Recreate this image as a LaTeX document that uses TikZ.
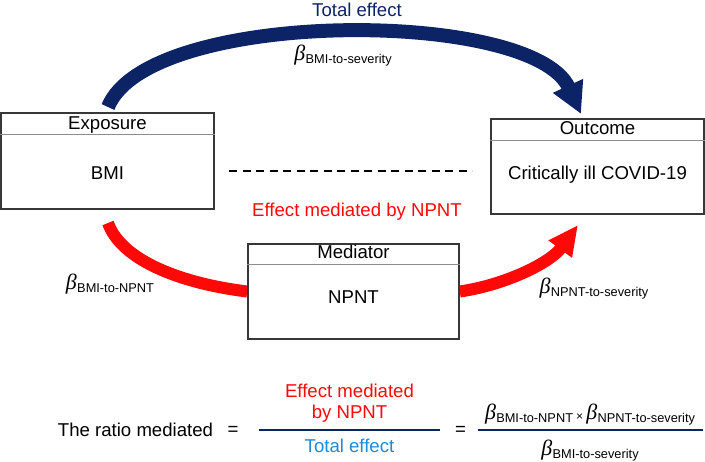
\documentclass[tikz,border=0pt]{standalone}
\usepackage{fontspec}
\setmainfont{Liberation Sans}
\newfontfamily\grkfont{Liberation Serif}
\usetikzlibrary{arrows.meta}
\definecolor{navy}{RGB}{12,36,102}
\definecolor{rred}{RGB}{255,8,8}
\definecolor{lblue}{RGB}{29,138,214}
\definecolor{boxline}{RGB}{55,55,55}
\definecolor{sepline}{RGB}{140,140,140}
\newcommand\betasub[1]{{\fontsize{22}{22}\selectfont\grkfont\itshape β}\kern0.3pt{\fontsize{12.8}{12.8}\selectfont\raisebox{-3pt}{#1}}}
\tikzset{
  boxframe/.style={draw=boxline, line width=1.5pt, fill=white, inner sep=0pt},
  sep/.style={draw=sepline, line width=1pt},
  txt/.style={inner sep=0pt, anchor=base},
  bluearc/.style={draw=navy, line width=14pt, -{Triangle[width=31pt,length=31pt]}},
  redarc/.style={draw=rred, line width=12pt, -{Triangle[width=27pt,length=30pt]}},
  redline/.style={draw=rred, line width=12pt},
  fracbar/.style={draw=navy, line width=2.2pt},
}
\begin{document}
\begin{tikzpicture}[x=1pt,y=-1pt, font=\fontsize{18.6}{21.5}\selectfont]
\useasboundingbox (0,0) rectangle (705,462);

\coordinate (bs) at (108,107);
\coordinate (bt) at (581,114);
\coordinate (r1s) at (108,223);
\coordinate (r2t) at (578,225);

% boxes
\node[boxframe, minimum width=213pt, minimum height=96pt] (expo) at (107.5,161) {};
\node[boxframe, minimum width=213pt, minimum height=95pt] (outc) at (597.5,166.5) {};
\node[boxframe, minimum width=211pt, minimum height=95pt] (med) at (353.5,291.5) {};

% connectors
\draw[bluearc] (bs) .. controls (148,8) and (532,8) .. (bt);
\draw[redline] (r1s) .. controls (122,262) and (185,284) .. (med.west);
\draw[redarc] (med.east) .. controls (505,285) and (550,263) .. (r2t);

% redraw mediator frame on top of arc ends
\node[draw=boxline, line width=1.5pt, inner sep=0pt, minimum width=211pt, minimum height=95pt] (medframe) at (med.center) {};

% header separators
\draw[sep] ([yshift=-22pt]expo.north west) -- ([yshift=-22pt]expo.north east);
\draw[sep] ([yshift=-22pt]outc.north west) -- ([yshift=-22pt]outc.north east);
\draw[sep] ([yshift=-21pt]med.north west) -- ([yshift=-21pt]med.north east);

% box texts
\node[txt] (expoh) at (107.5,130) {Exposure};
\node[txt] (expot) at (107.5,180) {BMI};
\node[txt] (outch) at (597.5,135) {Outcome};
\node[txt] (outct) at (597.5,180) {Critically ill COVID-19};
\node[txt] (medh) at (353.5,259) {Mediator};
\node[txt] (medt) at (353.5,304) {NPNT};

% dashed line
\coordinate (d1) at (229,171);
\coordinate (d2) at (472,171);
\draw[black, line width=1.5pt, dash pattern=on 8pt off 5.5pt] (d1) -- (d2);

% labels
\node[txt, text=navy] (tot) at (357,17) {Total effect};
\node[txt] (b1) at (343,61) {\betasub{BMI-to-severity}};
\node[txt, text=rred] (emed) at (357,217) {Effect mediated by NPNT};
\node[txt] (b2) at (110,290) {\betasub{BMI-to-NPNT}};
\node[txt] (b3) at (594,294) {\betasub{NPNT-to-severity}};

% bottom equation
\node[txt] (ratio) at (135.5,437) {The ratio mediated};
\node[txt] (eq1) at (233,436) {=};
\coordinate (f1a) at (259,430);
\coordinate (f1b) at (440,430);
\draw[fracbar] (f1a) -- (f1b);
\node[txt, text=rred] (n1a) at (349.5,398) {Effect mediated};
\node[txt, text=rred] (n1b) at (349.5,419) {by NPNT};
\node[txt, text=lblue] (d1t) at (349.5,453) {Total effect};
\node[txt] (eq2) at (460.5,436) {=};
\coordinate (f2a) at (478,430);
\coordinate (f2b) at (703,430);
\draw[fracbar] (f2a) -- (f2b);
\node[txt] (num) at (590,420) {\betasub{BMI-to-NPNT}\,{\fontsize{12}{12}\selectfont\raisebox{-1pt}{×}}\,\betasub{NPNT-to-severity}};
\node[txt] (den) at (590,456) {\betasub{BMI-to-severity}};
\end{tikzpicture}
\end{document}
